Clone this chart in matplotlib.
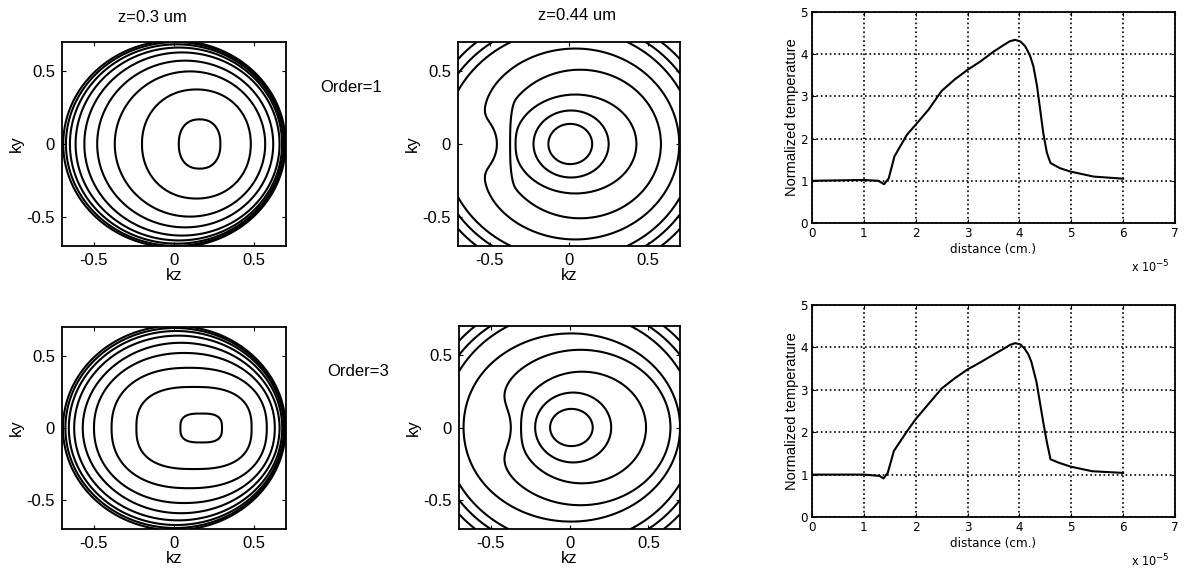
import matplotlib.pyplot as plt
import numpy as np
from matplotlib import font_manager

# ---- line plots (distance in units of 1e-5 cm) ----
dist_order1 = [0, 1.0, 1.28, 1.39, 1.48, 1.59, 1.83, 2.0, 2.25, 2.5, 2.75, 3.0, 3.25, 3.5,
               3.7, 3.82, 3.92, 4.02, 4.11, 4.2, 4.27, 4.34, 4.46, 4.53, 4.6, 4.78, 4.98,
               5.43, 6.0]
temp_order1 = [1.0, 1.02, 1.0, 0.92, 1.06, 1.58, 2.09, 2.33, 2.69, 3.13, 3.4, 3.63, 3.83, 4.06,
               4.22, 4.31, 4.34, 4.3, 4.19, 3.98, 3.71, 3.24, 2.13, 1.66, 1.42, 1.30, 1.22,
               1.10, 1.05]
dist_order3 = [0, 1.0, 1.3, 1.38, 1.46, 1.58, 1.82, 2.0, 2.25, 2.5, 2.75, 3.0, 3.25, 3.5,
               3.7, 3.82, 3.92, 4.02, 4.1, 4.17, 4.23, 4.33, 4.46, 4.53, 4.6, 4.76, 4.98,
               5.4, 6.0]
temp_order3 = [1.0, 1.0, 0.97, 0.91, 1.04, 1.56, 2.0, 2.31, 2.67, 3.03, 3.27, 3.48, 3.65, 3.83,
               3.97, 4.06, 4.1, 4.07, 3.97, 3.84, 3.66, 3.18, 2.23, 1.76, 1.36, 1.28, 1.19,
               1.08, 1.04]

# ---- contour maps: contour "radius" levels, centre shift and aspect per level ----
# z=0.3 um, order 1
lev_a = [0.13, 0.34, 0.47, 0.55, 0.61, 0.645, 0.668, 0.684, 0.695]
tab_a = dict(L=[0, 0.13, 0.34, 0.47, 0.55, 0.61, 0.7, 1.5],
             c=[0.16, 0.16, 0.14, 0.10, 0.07, 0.05, 0.0, 0.0],
             a=[1.3, 1.3, 1.1, 1.06, 1.04, 1.03, 1.02, 1.02],
             p=[2.3, 2.3, 2.1, 2.0, 2.0, 2.0, 2.0, 2.0])
# z=0.44 um, order 1
lev_b = [0.138, 0.237, 0.385, 0.51, 0.655, 0.79, 0.85, 0.91]
tab_b = dict(L=[0, 0.138, 0.237, 0.385, 0.51, 0.655, 0.79, 1.5],
             c=[0, 0.008, 0.013, 0.04, 0.07, 0.04, 0.0, 0.0],
             a=[1.0, 1.0, 0.97, 0.88, 1.0, 1.0, 1.0, 1.0],
             p=[2.0] * 8)
bump_b = dict(A=0.10, e=0.355, w=0.008, f=0.46, sf=0.10, sy=0.17,
              N=0.09, nz=-0.54, nsz=0.06, nsy=0.085)
# z=0.3 um, order 3
lev_c = [0.13, 0.36, 0.485, 0.565, 0.615, 0.65, 0.672, 0.686, 0.696]
tab_c = dict(L=[0, 0.13, 0.36, 0.485, 0.565, 0.615, 0.7, 1.5],
             c=[0.17, 0.17, 0.125, 0.095, 0.065, 0.045, 0.0, 0.0],
             a=[0.77, 0.77, 0.79, 0.86, 0.92, 0.96, 1.02, 1.02],
             p=[3.0, 3.0, 2.6, 2.3, 2.1, 2.0, 2.0, 2.0])
# z=0.44 um, order 3
lev_d = [0.135, 0.241, 0.405, 0.57, 0.69, 0.8, 0.86, 0.92]
tab_d = dict(L=[0, 0.135, 0.241, 0.405, 0.57, 0.69, 0.8, 1.5],
             c=[0, 0.012, 0.023, 0.08, 0.07, 0.01, 0.0, 0.0],
             a=[0.95, 0.95, 1.0, 0.95, 0.94, 0.94, 1.0, 1.0],
             p=[2.0] * 8)
bump_d = dict(A=0.14, e=0.335, w=0.02, f=0.42, sf=0.10, sy=0.13,
              N=0.0, nz=-0.5, nsz=0.06, nsy=0.1)


def radius_field(kz, ky, tab, bump=None):
    g = np.hypot(kz, ky)
    for _ in range(8):
        c = np.interp(g, tab['L'], tab['c'])
        a = np.interp(g, tab['L'], tab['a'])
        p = np.interp(g, tab['L'], tab['p'])
        g = (np.abs(kz - c) ** p + np.abs(ky / a) ** p) ** (1 / p)
    if bump:
        s = 1 / (1 + np.exp((kz + bump['e']) / bump['w']))
        d = np.clip(-kz - bump['f'], 0, None)
        g = g + bump['A'] * s * np.exp(-d ** 2 / (2 * bump['sf'] ** 2)) \
            * np.exp(-ky ** 2 / (2 * bump['sy'] ** 2))
        g = g + bump['N'] * np.exp(-(kz - bump['nz']) ** 2 / (2 * bump['nsz'] ** 2)
                                   - ky ** 2 / (2 * bump['nsy'] ** 2))
    return g


k = np.linspace(-0.7, 0.7, 351)
KZ, KY = np.meshgrid(k, k)

fig = plt.figure(figsize=(11.89, 5.69), dpi=100)
plt.rcParams['font.family'] = ['Liberation Sans', 'DejaVu Sans']
installed = {f.name for f in font_manager.fontManager.ttflist}
if 'Liberation Sans Narrow' in installed:
    narrow = dict(family='Liberation Sans Narrow')
else:
    narrow = dict(family='DejaVu Sans', stretch='condensed')

contour_axes = [
    ([62 / 1189, 1 - 246 / 569, 224 / 1189, 204 / 569], tab_a, lev_a, None),
    ([458 / 1189, 1 - 246 / 569, 222 / 1189, 204 / 569], tab_b, lev_b, bump_b),
    ([62 / 1189, 1 - 529 / 569, 224 / 1189, 202 / 569], tab_c, lev_c, None),
    ([459 / 1189, 1 - 529 / 569, 221 / 1189, 203 / 569], tab_d, lev_d, bump_d),
]
for rect, tab, lev, bump in contour_axes:
    ax = fig.add_axes(rect)
    G = radius_field(KZ, KY, tab, bump)
    ax.contour(KZ, KY, G, levels=lev, colors='k', linewidths=1.5)
    ax.set_xlim(-0.7, 0.7)
    ax.set_ylim(-0.7, 0.7)
    ax.set_xticks([-0.5, 0, 0.5])
    ax.set_yticks([-0.5, 0, 0.5])
    ax.set_xticklabels(['-0.5', '0', '0.5'])
    ax.set_yticklabels(['-0.5', '0', '0.5'])
    ax.tick_params(direction='in', top=True, right=True, length=3, labelsize=12, pad=5)
    ax.set_xlabel('kz', fontsize=12, labelpad=0)
    ax.set_ylabel('ky', fontsize=12, labelpad=2)
    for s in ax.spines.values():
        s.set_linewidth(1.3)

line_axes = [
    ([812 / 1189, 1 - 223 / 569, 363 / 1189, 211 / 569], dist_order1, temp_order1),
    ([812 / 1189, 1 - 517 / 569, 363 / 1189, 212 / 569], dist_order3, temp_order3),
]
for rect, xs, ys in line_axes:
    ax = fig.add_axes(rect)
    ax.plot(xs, ys, color='k', linewidth=1.5)
    ax.set_xlim(0, 7)
    ax.set_ylim(0, 5)
    ax.set_xticks(range(8))
    ax.set_yticks(range(6))
    ax.grid(True, linestyle=':', color='k', linewidth=1.2)
    ax.tick_params(direction='in', top=True, right=True, length=3, labelsize=9.5, pad=3)
    for lab in ax.get_xticklabels() + ax.get_yticklabels():
        lab.set_family(narrow['family'])
        if 'stretch' in narrow:
            lab.set_stretch(narrow['stretch'])
    ax.set_xlabel('distance (cm.)', fontsize=9.5, labelpad=2, **narrow)
    ax.set_ylabel('Normalized temperature', fontsize=10.5, labelpad=1)
    ax.text(0.985, -0.17, r'x 10$^{-5}$', transform=ax.transAxes, ha='right', va='top',
            fontsize=9, **narrow)
    for s in ax.spines.values():
        s.set_linewidth(1.3)

fig.text(152 / 1189, 1 - 18 / 569, 'z=0.3 um', ha='center', va='center', fontsize=12)
fig.text(577 / 1189, 1 - 15 / 569, 'z=0.44 um', ha='center', va='center', fontsize=12)
fig.text(320 / 1189, 1 - 88 / 569, 'Order=1', ha='left', va='center', fontsize=12)
fig.text(327 / 1189, 1 - 372 / 569, 'Order=3', ha='left', va='center', fontsize=12)

fig.savefig('out.png', dpi=100)
